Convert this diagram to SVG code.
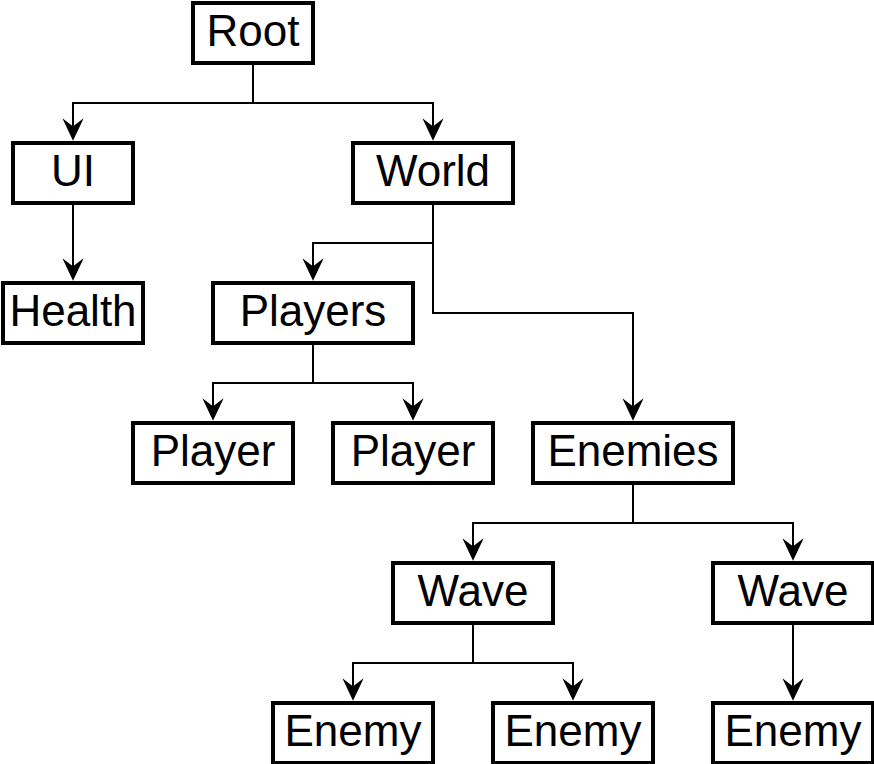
<svg xmlns="http://www.w3.org/2000/svg" width="874" height="764" viewBox="0 0 874 764">
<defs>
<marker id="arr" viewBox="0 0 20 16" refX="7.5" refY="8" markerWidth="20" markerHeight="16" markerUnits="userSpaceOnUse" orient="auto" overflow="visible">
<path d="M0,0 L17,8 L0,16 L6,8 Z" fill="#000" stroke="#000" stroke-width="2" stroke-miterlimit="10"/>
</marker>
<style>
.node rect{fill:#fff;stroke:#000;stroke-width:4}
.node text{font-family:"Liberation Sans",Arial,sans-serif;font-size:44px;fill:#000;text-anchor:middle}
#connectors path{fill:none;stroke:#000;stroke-width:2;marker-end:url(#arr)}
</style>
</defs>
<rect width="874" height="764" fill="#fff"/>
<g id="connectors">
<path d="M253,63 V103 H73 V129"/>
<path d="M253,103 H433 V129"/>
<path d="M73,203 V269"/>
<path d="M433,203 V243 H313 V269"/>
<path d="M433,243 V313 H633 V409"/>
<path d="M313,343 V383 H213 V409"/>
<path d="M313,383 H413 V409"/>
<path d="M633,483 V523 H473 V549"/>
<path d="M633,523 H793 V549"/>
<path d="M473,623 V663 H353 V689"/>
<path d="M473,663 H573 V689"/>
<path d="M793,623 V689"/>
</g>
<g id="root" class="node"><rect x="193" y="3" width="120" height="60"/><text x="253" y="46">Root</text></g>
<g id="ui" class="node"><rect x="13" y="143" width="120" height="60"/><text x="73" y="186">UI</text></g>
<g id="world" class="node"><rect x="353" y="143" width="160" height="60"/><text x="433" y="186">World</text></g>
<g id="health" class="node"><rect x="3" y="283" width="140" height="60"/><text x="73" y="326">Health</text></g>
<g id="players" class="node"><rect x="213" y="283" width="200" height="60"/><text x="313" y="326">Players</text></g>
<g id="player1" class="node"><rect x="133" y="423" width="160" height="60"/><text x="213" y="466">Player</text></g>
<g id="player2" class="node"><rect x="333" y="423" width="160" height="60"/><text x="413" y="466">Player</text></g>
<g id="enemies" class="node"><rect x="533" y="423" width="200" height="60"/><text x="633" y="466">Enemies</text></g>
<g id="wave1" class="node"><rect x="393" y="563" width="160" height="60"/><text x="473" y="606">Wave</text></g>
<g id="wave2" class="node"><rect x="713" y="563" width="160" height="60"/><text x="793" y="606">Wave</text></g>
<g id="enemy1" class="node"><rect x="273" y="703" width="160" height="60"/><text x="353" y="746">Enemy</text></g>
<g id="enemy2" class="node"><rect x="493" y="703" width="160" height="60"/><text x="573" y="746">Enemy</text></g>
<g id="enemy3" class="node"><rect x="713" y="703" width="160" height="60"/><text x="793" y="746">Enemy</text></g>
</svg>
